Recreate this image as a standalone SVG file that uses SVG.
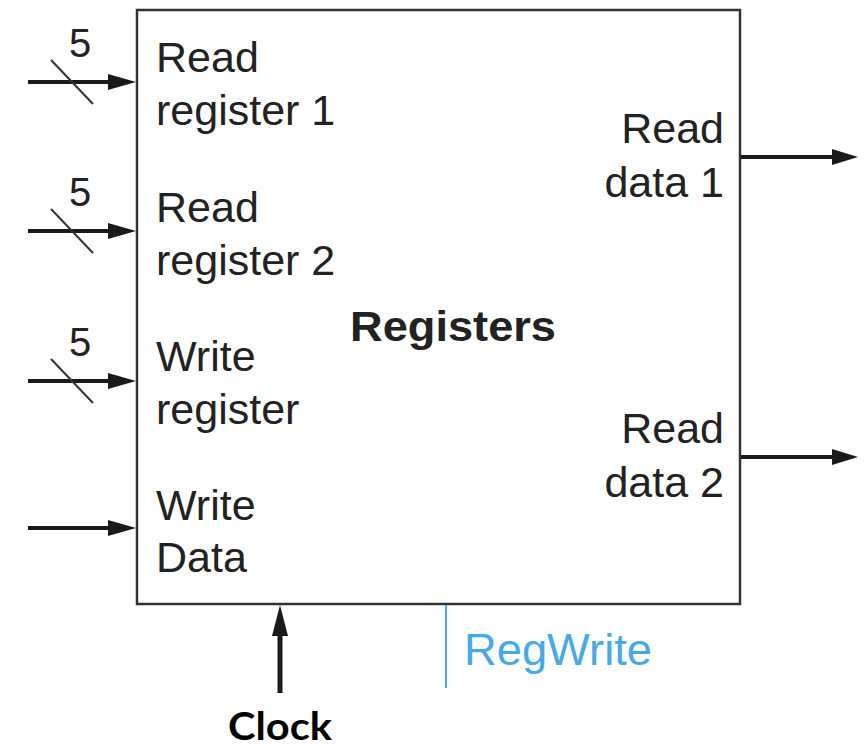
<svg xmlns="http://www.w3.org/2000/svg" width="867" height="748" viewBox="0 0 867 748">
<style>
.t{font-family:"Liberation Sans",Arial,sans-serif;font-size:43px;fill:#222}
.r{text-anchor:end}
.w{stroke:#1a1a1a;stroke-width:4;fill:none}
.s{stroke:#333;stroke-width:2}
.h{fill:#1a1a1a}
</style>
<rect width="867" height="748" fill="#fff"/>
<g id="registers">
<rect x="137" y="10" width="603" height="594" fill="#fff" stroke="#333" stroke-width="2.5"/>
<text class="t" x="350" y="341" textLength="206" lengthAdjust="spacingAndGlyphs" style="font-weight:bold">Registers</text>
<text class="t" x="156" y="72">Read</text>
<text class="t" x="156" y="125">register 1</text>
<text class="t" x="156" y="222">Read</text>
<text class="t" x="156" y="275">register 2</text>
<text class="t" x="156" y="371">Write</text>
<text class="t" x="156" y="424">register</text>
<text class="t" x="156" y="520">Write</text>
<text class="t" x="156" y="572">Data</text>
<text class="t r" x="724" y="143">Read</text>
<text class="t r" x="724" y="197">data 1</text>
<text class="t r" x="724" y="443">Read</text>
<text class="t r" x="724" y="497">data 2</text>
</g>
<g id="connectors">
<line class="w" x1="28" y1="82" x2="112" y2="82"/>
<polygon class="h" points="108,74 136,82 108,90"/>
<line class="s" x1="51" y1="60" x2="93" y2="104"/>
<text class="t" x="69" y="57" style="font-size:40px">5</text>
<line class="w" x1="28" y1="231" x2="112" y2="231"/>
<polygon class="h" points="108,223 136,231 108,239"/>
<line class="s" x1="51" y1="209" x2="93" y2="253"/>
<text class="t" x="69" y="206" style="font-size:40px">5</text>
<line class="w" x1="28" y1="381" x2="112" y2="381"/>
<polygon class="h" points="108,373 136,381 108,389"/>
<line class="s" x1="51" y1="359" x2="93" y2="403"/>
<text class="t" x="69" y="356" style="font-size:40px">5</text>
<line class="w" x1="28" y1="528" x2="112" y2="528"/>
<polygon class="h" points="108,520 136,528 108,536"/>
<line class="w" x1="741" y1="157" x2="836" y2="157"/>
<polygon class="h" points="832,149 858,157 832,165"/>
<line class="w" x1="741" y1="457" x2="836" y2="457"/>
<polygon class="h" points="832,449 858,457 832,465"/>
<line stroke="#1a1a1a" stroke-width="5" x1="280" y1="693" x2="280" y2="630"/>
<polygon class="h" points="272,636 280,605 288,636"/>
<line stroke="#47a9e6" stroke-width="2" x1="446" y1="605" x2="446" y2="688"/>
</g>
<g id="labels">
<text class="t" x="464" y="665" textLength="188" lengthAdjust="spacingAndGlyphs" style="fill:#47a9e6;font-size:44px">RegWrite</text>
<text x="280" y="740" text-anchor="middle" textLength="104" lengthAdjust="spacingAndGlyphs" style="font-family:Lato,'Open Sans',sans-serif;font-weight:bold;font-size:39px;fill:#000">Clock</text>
</g>
</svg>
